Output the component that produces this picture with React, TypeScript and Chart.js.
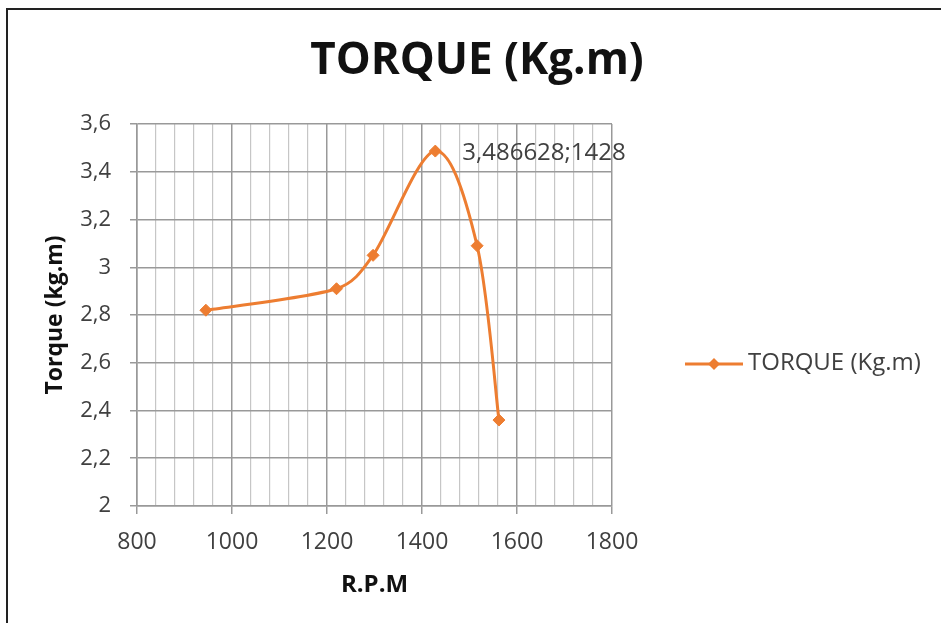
import React, { useEffect, useRef } from 'react';
import { Chart, registerables } from 'chart.js';

Chart.register(...registerables);

// ---- data ----
const CHART_TITLE = 'TORQUE (Kg.m)';
const SERIES_LABEL = 'TORQUE (Kg.m)';
const X_TITLE = 'R.P.M';
const Y_TITLE = 'Torque (kg.m)';
const rpm = [945, 1220, 1297, 1428, 1516, 1562];
const torque = [2.82, 2.91, 3.05, 3.486628, 3.09, 2.36];
const LABELLED_INDEX = 3;
const X_MIN = 800;
const X_MAX = 1800;
const X_MINOR_STEP = 40;
const X_MAJOR_STEP = 200;
const Y_MIN = 2;
const Y_MAX = 3.6;
const Y_STEP = 0.2;

// ---- styles ----
const ORANGE = '#ED7D31';
const FONT = '"Open Sans", "Liberation Sans", sans-serif';
const MAJOR_GRID = '#999999';
const MINOR_GRID = '#c6c6c6';
const TICK_COLOR = '#404040';
const TITLE_COLOR = '#111111';

const commaNum = (v: number) => String(v).replace('.', ',');

// Excel-like smoothing (Catmull-Rom, 1/6 factor, arms limited by chord length)
const smoothPlugin = {
  id: 'excelSmooth',
  beforeDatasetDraw(chart: any, args: any) {
    const meta = args.meta;
    const pts = meta.data;
    const n = pts.length;
    const CAP = 0.38;
    for (let i = 0; i < n; i++) {
      const prev = pts[Math.max(0, i - 1)];
      const next = pts[Math.min(n - 1, i + 1)];
      const dx = (next.x - prev.x) / 6;
      const dy = (next.y - prev.y) / 6;
      const arm = Math.hypot(dx, dy) || 1;
      const chordPrev = Math.hypot(pts[i].x - prev.x, pts[i].y - prev.y);
      const chordNext = Math.hypot(next.x - pts[i].x, next.y - pts[i].y);
      const sPrev = i === 0 ? 1 : Math.min(1, (CAP * chordPrev) / arm);
      const sNext = i === n - 1 ? 1 : Math.min(1, (CAP * chordNext) / arm);
      pts[i].cp1x = pts[i].x - dx * sPrev;
      pts[i].cp1y = pts[i].y - dy * sPrev;
      pts[i].cp2x = pts[i].x + dx * sNext;
      pts[i].cp2y = pts[i].y + dy * sNext;
    }
    if (meta.dataset) meta.dataset._pointsUpdated = true;
  },
};

const overlayPlugin = {
  id: 'overlayPlugin',
  afterDatasetsDraw(chart: any) {
    const ctx = chart.ctx as CanvasRenderingContext2D;
    const meta = chart.getDatasetMeta(0);
    const pt = meta.data[LABELLED_INDEX];
    const ca = chart.chartArea;
    ctx.save();
    // chart title
    ctx.font = `bold 44px ${FONT}`;
    ctx.fillStyle = TITLE_COLOR;
    ctx.textAlign = 'center';
    ctx.textBaseline = 'middle';
    ctx.fillText(CHART_TITLE, 477, ca.top - 62.5);

    // data label
    ctx.font = `24px ${FONT}`;
    ctx.fillStyle = TICK_COLOR;
    ctx.textAlign = 'left';
    ctx.textBaseline = 'middle';
    const label = commaNum(torque[LABELLED_INDEX]) + ';' + rpm[LABELLED_INDEX];
    ctx.fillText(label, pt.x + 27, pt.y + 2);

    // legend
    const ly = ca.top + 240;
    const lx0 = ca.right + 73;
    ctx.strokeStyle = ORANGE;
    ctx.lineWidth = 3;
    ctx.beginPath();
    ctx.moveTo(lx0, ly);
    ctx.lineTo(lx0 + 58, ly);
    ctx.stroke();
    const cx = lx0 + 29;
    const r = 6;
    ctx.fillStyle = ORANGE;
    ctx.beginPath();
    ctx.moveTo(cx, ly - r);
    ctx.lineTo(cx + r, ly);
    ctx.lineTo(cx, ly + r);
    ctx.lineTo(cx - r, ly);
    ctx.closePath();
    ctx.fill();
    ctx.fillStyle = TICK_COLOR;
    ctx.font = `24px ${FONT}`;
    ctx.fillText(SERIES_LABEL, lx0 + 63, ly - 1);
    ctx.restore();
  },
};

export default function App() {
  const canvasRef = useRef<HTMLCanvasElement | null>(null);

  useEffect(() => {
    const canvas = canvasRef.current;
    if (!canvas) return;
    const chart = new Chart(canvas, {
      type: 'line',
      data: {
        datasets: [
          {
            label: SERIES_LABEL,
            data: rpm.map((x, i) => ({ x, y: torque[i] })),
            borderColor: ORANGE,
            backgroundColor: ORANGE,
            borderWidth: 3,
            tension: 0.4,
            capBezierPoints: false,
            pointStyle: 'rectRot',
            pointRadius: 6,
            pointBorderWidth: 1,
            pointBackgroundColor: ORANGE,
            pointBorderColor: ORANGE,
            fill: false,
          },
        ],
      },
      options: {
        responsive: false,
        animation: false,
        layout: { padding: { left: 0, right: 329, top: 124, bottom: 0 } },
        plugins: {
          legend: { display: false },
          tooltip: { enabled: false },
          title: { display: false },
        },
        scales: {
          x: {
            type: 'linear',
            min: X_MIN,
            max: X_MAX,
            afterFit: (scale: any) => {
              scale.height = 117;
            },
            ticks: {
              stepSize: X_MINOR_STEP,
              autoSkip: false,
              maxRotation: 0,
              color: TICK_COLOR,
              padding: 15,
              font: { family: FONT, size: 23 },
              callback: (v: any) => (Number(v) % X_MAJOR_STEP === 0 ? String(v) : ''),
            },
            grid: {
              color: (c: any) => (c.tick && c.tick.value % X_MAJOR_STEP === 0 ? MAJOR_GRID : MINOR_GRID),
              tickColor: (c: any) => (c.tick && c.tick.value % X_MAJOR_STEP === 0 ? MAJOR_GRID : 'rgba(0,0,0,0)'),
              lineWidth: (c: any) => (c.tick && c.tick.value % X_MAJOR_STEP === 0 ? 1.5 : 1.2),
              tickLength: 8,
              drawTicks: true,
            },
            border: { display: true, color: MAJOR_GRID, width: 1.5 },
            title: {
              display: true,
              text: X_TITLE,
              color: TITLE_COLOR,
              font: { family: FONT, size: 24, weight: 'bold' },
              padding: { top: 0, bottom: 23 },
            },
          },
          y: {
            type: 'linear',
            min: Y_MIN,
            max: Y_MAX,
            afterFit: (scale: any) => {
              scale.width = 137;
            },
            ticks: {
              stepSize: Y_STEP,
              color: TICK_COLOR,
              padding: 19,
              font: { family: FONT, size: 22 },
              callback: (v: any) => commaNum(Number(Number(v).toFixed(1))),
            },
            grid: {
              color: MAJOR_GRID,
              lineWidth: 1.5,
              tickLength: 7,
              drawTicks: true,
            },
            border: { display: true, color: MAJOR_GRID, width: 1.5 },
            title: {
              display: true,
              text: Y_TITLE,
              color: TITLE_COLOR,
              font: { family: FONT, size: 23, weight: 'bold' },
              padding: { top: 42, bottom: 0 },
            },
          },
        },
      },
      plugins: [smoothPlugin, overlayPlugin],
    });
    return () => chart.destroy();
  }, []);

  return (
    <div
      style={{
        position: 'fixed',
        left: 0,
        top: 0,
        width: 941,
        height: 623,
        background: '#ffffff',
        overflow: 'hidden',
      }}
    >
      <div
        style={{
          position: 'absolute',
          left: 6,
          top: 8,
          right: 0,
          bottom: 0,
          borderTop: '2px solid #222222',
          borderLeft: '2px solid #222222',
        }}
      />
      <canvas
        ref={canvasRef}
        width={941}
        height={623}
        style={{ position: 'absolute', left: 0, top: 0, display: 'block' }}
      />
    </div>
  );
}
